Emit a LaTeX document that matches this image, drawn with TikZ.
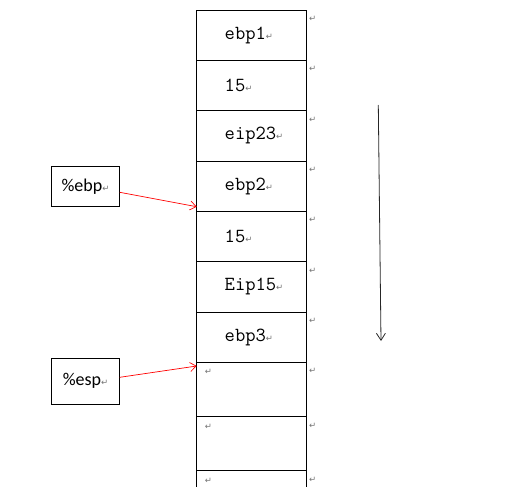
\documentclass[tikz,border=0pt]{standalone}
\usepackage{fontspec}
\usetikzlibrary{positioning}
\usetikzlibrary{arrows.meta}

\newfontfamily\regfont{Carlito}
\newfontfamily\markfont{DejaVu Sans}
\newcommand{\retmark}{{\markfont\color{black!55}\fontsize{8.5pt}{8.5pt}\selectfont ↵}}
\newcommand{\cellpad}{\hspace*{28pt}}

\begin{document}
\begin{tikzpicture}[
  x=1pt,
  y=1pt,
  node distance=0pt
]

  \path[use as bounding box] (0,0) rectangle (506,-487);

  \tikzstyle{rowmark}=[anchor=north west,inner sep=0pt,xshift=2.5pt,yshift=-6pt]
  \tikzstyle{cellmark}=[anchor=north west,inner sep=0pt,xshift=8pt,yshift=-7pt]
  \tikzstyle{memcell}=[draw,rectangle,line width=0.9pt,outer sep=0pt,inner sep=0pt,minimum height=50.33pt,text width=109.6pt,align=left,font=\fontsize{20pt}{24pt}\ttfamily,label={[rowmark]north east:\retmark}]
  \tikzstyle{emptycell}=[memcell,minimum height=54.2pt,label={[cellmark]north west:\retmark}]
  \tikzstyle{regnode}=[draw,rectangle,line width=0.9pt,minimum width=67.6pt,inner sep=0pt,font=\regfont\fontsize{18pt}{22pt}\selectfont]

  \tikzstyle{pointer}=[draw,->,>={Straight Barb[length=6pt,width=9pt]},red,line width=0.7pt]
  \tikzstyle{growptr}=[draw,->,>={Straight Barb[length=7pt,width=9pt]},black!85,line width=0.8pt]

  % stack
  \node[memcell,anchor=north] (s1) at (251.5,-10) {\cellpad ebp1\retmark};
  \node[memcell] (s2) [below=of s1] {\cellpad 15\retmark};
  \node[memcell] (s3) [below=of s2] {\cellpad eip23\retmark};
  \node[memcell] (s4) [below=of s3] {\cellpad ebp2\retmark};
  \node[memcell] (s5) [below=of s4] {\cellpad 15\retmark};
  \node[memcell] (s6) [below=of s5] {\cellpad Eip15\retmark};
  \node[memcell] (s7) [below=of s6] {\cellpad ebp3\retmark};
  \node[emptycell] (s8) [below=of s7] {};
  \node[emptycell] (s9) [below=of s8] {};
  \node[emptycell] (s10) [below=of s9] {};

  % registers
  \node[regnode,minimum height=40.7pt] (ebpreg) at (85.5,-186.3) {\raisebox{-3pt}{\%ebp\retmark}};
  \node[regnode,minimum height=46pt] (espreg) at (85.5,-381.3) {\%esp\retmark};

  % direction
  \coordinate (growtop) at (378.3,-105);
  \coordinate (growend) at (381,-341);

  % pointers
  \draw[pointer] ([yshift=-6pt]ebpreg.east) -- ([yshift=4.6pt]s4.south west);
  \draw[pointer] ([yshift=4pt]espreg.east) -- ([yshift=-3.7pt]s8.north west);
  \draw[growptr] (growtop) -- (growend);

\end{tikzpicture}
\end{document}
